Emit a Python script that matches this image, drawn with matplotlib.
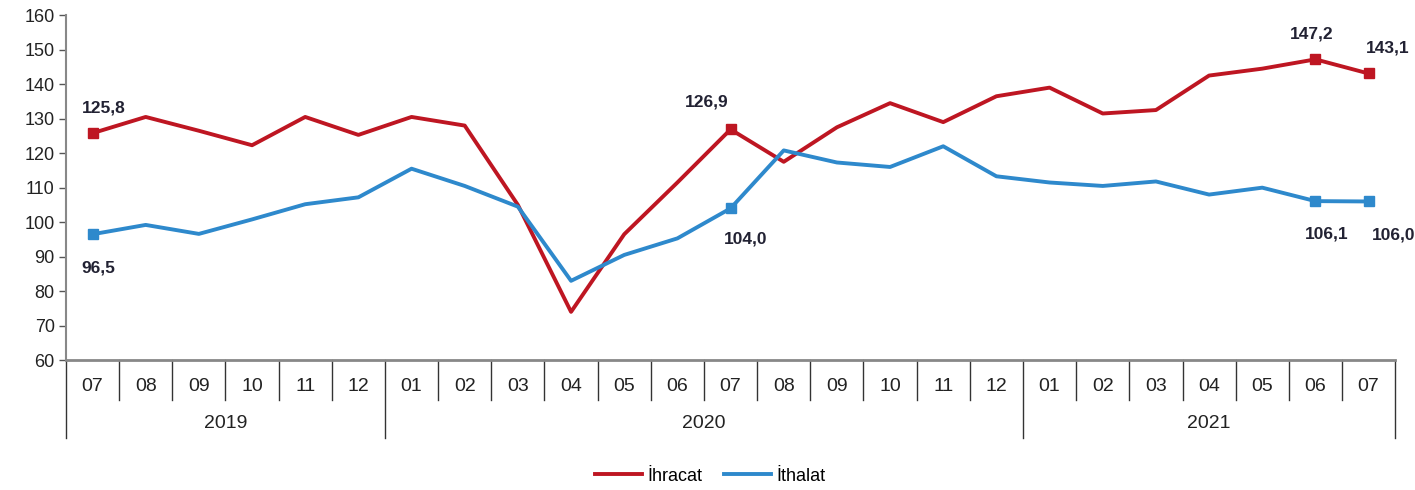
import matplotlib
matplotlib.use('Agg')
import matplotlib.pyplot as plt
import matplotlib.transforms as mtransforms

plt.rcParams['font.family'] = ['Liberation Sans', 'DejaVu Sans']

months = ['07', '08', '09', '10', '11', '12',
          '01', '02', '03', '04', '05', '06', '07', '08', '09', '10', '11', '12',
          '01', '02', '03', '04', '05', '06', '07']
years = ['2019', '2020', '2021']
year_counts = [6, 12, 7]

ihracat = [125.8, 130.5, 126.5, 122.3, 130.5, 125.3,
           130.5, 128.0, 105.0, 74.0, 96.5, 111.5, 126.9, 117.5, 127.5, 134.5, 129.0, 136.5,
           139.0, 131.5, 132.5, 142.5, 144.5, 147.2, 143.1]
ithalat = [96.5, 99.2, 96.6, 100.8, 105.2, 107.2,
           115.5, 110.5, 104.5, 83.0, 90.5, 95.3, 104.0, 120.8, 117.3, 116.0, 122.0, 113.3,
           111.5, 110.5, 111.8, 108.0, 110.0, 106.1, 106.0]

# labelled points: index, text offset (points)
red_labels = {0: (8, 18), 12: (-17, 20), 23: (-3, 18), 24: (14, 18)}
blue_labels = {0: (4, -24), 12: (11, -22), 23: (8, -24), 24: (18, -24)}

red = '#BE1622'
blue = '#2E89CC'
txt = '#222233'

fig = plt.figure(figsize=(14.15, 4.9), dpi=100)
ax = fig.add_axes([0.0466, 0.265, 0.9394, 0.704])

x = list(range(len(months)))
ax.plot(x, ihracat, color=red, linewidth=2.8, label='İhracat')
ax.plot(x, ithalat, color=blue, linewidth=2.8, label='İthalat')

for i, off in red_labels.items():
    ax.plot(x[i], ihracat[i], 's', color=red, markersize=7)
    ax.annotate(f'{ihracat[i]:.1f}'.replace('.', ','), (x[i], ihracat[i]),
                xytext=off, textcoords='offset points', ha='center', va='center',
                fontsize=12.5, fontweight='bold', color=txt)
for i, off in blue_labels.items():
    ax.plot(x[i], ithalat[i], 's', color=blue, markersize=7)
    ax.annotate(f'{ithalat[i]:.1f}'.replace('.', ','), (x[i], ithalat[i]),
                xytext=off, textcoords='offset points', ha='center', va='center',
                fontsize=12.5, fontweight='bold', color=txt)

ax.set_xlim(-0.5, len(months) - 0.5)
ax.set_ylim(60, 160)
ax.set_yticks(range(60, 161, 10))
ax.tick_params(axis='y', labelsize=13, colors='#555555', length=5, width=1, pad=3)
for lab in ax.get_yticklabels():
    lab.set_color('#222222')

narrow = ['Liberation Sans Narrow', 'Liberation Sans', 'DejaVu Sans']
ax.set_xticks(x)
ax.set_xticklabels(months, fontsize=14, color='#222222', family=narrow)
ax.tick_params(axis='x', length=0, pad=13)

for s in ['top', 'right']:
    ax.spines[s].set_visible(False)
ax.spines['left'].set_color('#888888')
ax.spines['bottom'].set_color('#888888')
ax.spines['left'].set_linewidth(1.5)
ax.spines['bottom'].set_linewidth(2)

# category separators below axis
trans = mtransforms.blended_transform_factory(ax.transData, ax.transAxes)
year_edges = [-0.5]
for c in year_counts:
    year_edges.append(year_edges[-1] + c)
for b in [i - 0.5 for i in range(len(months) + 1)]:
    bottom = -0.225 if b in year_edges else -0.115
    ax.plot([b, b], [0, bottom], color='#333333', linewidth=1, transform=trans, clip_on=False)
for k, yr in enumerate(years):
    mid = (year_edges[k] + year_edges[k + 1]) / 2
    ax.text(mid, -0.185, yr, transform=trans, ha='center', va='center',
            fontsize=14, color='#222222', family=narrow)

leg = ax.legend(loc='upper center', bbox_to_anchor=(0.485, -0.265), ncol=2, frameon=False,
                fontsize=13, handlelength=2.6, columnspacing=1.2, handletextpad=0.3)
for t in leg.get_texts():
    t.set_family(narrow)

fig.savefig('out.png', dpi=100)
